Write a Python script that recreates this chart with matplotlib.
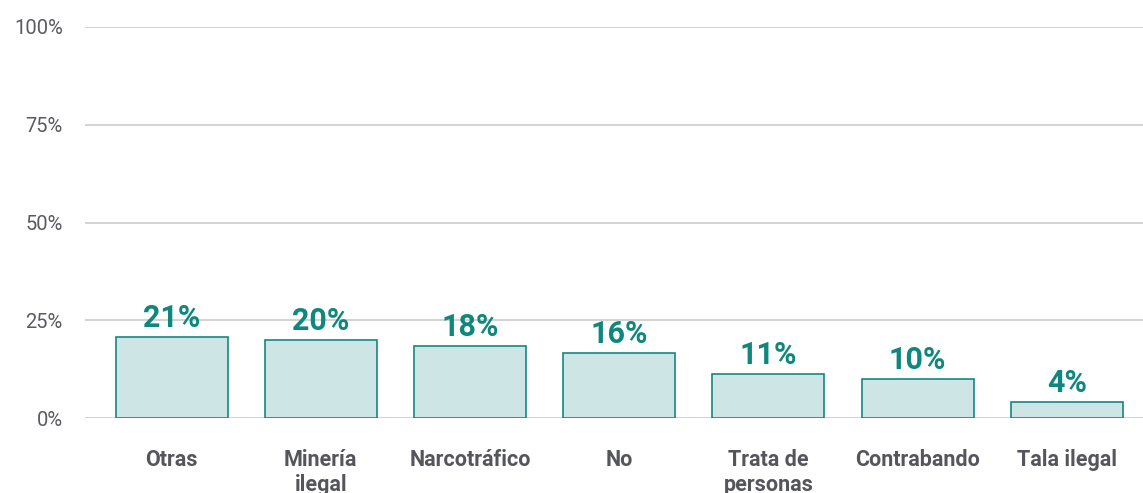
import matplotlib.pyplot as plt
import numpy as np

# datos
categorias = ['Otras', 'Minería\nilegal', 'Narcotráfico', 'No', 'Trata de\npersonas', 'Contrabando', 'Tala ilegal']
valores = [20.7, 19.9, 18.4, 16.6, 11.3, 10.0, 4.1]
etiquetas = ['21%', '20%', '18%', '16%', '11%', '10%', '4%']
yticks = [0, 25, 50, 75, 100]

plt.rcParams['font.family'] = ['Roboto', 'DejaVu Sans']

W, H = 1143, 493
fig = plt.figure(figsize=(W / 100, H / 100), dpi=100)
ax = fig.add_axes([85 / W, 75 / H, (W - 85) / W, 391 / H])

x = np.arange(len(categorias))
ax.bar(x, valores, width=0.75, color='#cde6e5', edgecolor='#15877f', linewidth=1.2, zorder=3)

for xi, v, t in zip(x, valores, etiquetas):
    ax.annotate(t, (xi, v), xytext=(0, 3), textcoords='offset points',
                ha='center', va='bottom', fontsize=22, fontweight='bold', color='#0f877d', zorder=4)

ax.set_ylim(0, 100)
ax.set_xlim(-0.58, 6.51)
ax.set_yticks(yticks)
ax.set_yticklabels([f'{t}%' for t in yticks], fontsize=14.5, color='#5a5a60')
ax.yaxis.grid(True, color='#cccccc', linewidth=1.2, zorder=0)
ax.tick_params(axis='y', length=0, pad=16)

ax.set_xticks(x)
ax.set_xticklabels(categorias, fontsize=15.5, fontweight='bold', color='#55555c', va='top', linespacing=1.2)
ax.tick_params(axis='x', length=0, pad=22)

for s in ax.spines.values():
    s.set_visible(False)

plt.savefig('out.png', dpi=100)
